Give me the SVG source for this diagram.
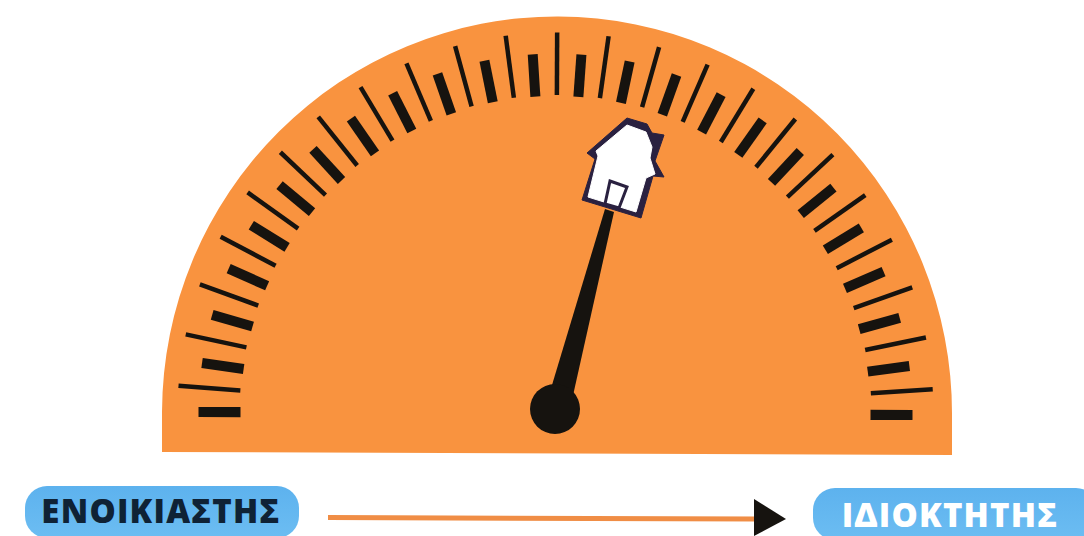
<svg xmlns="http://www.w3.org/2000/svg" width="1084" height="536" viewBox="0 0 1084 536">
<defs>
<linearGradient id="pill" x1="0" y1="0" x2="0" y2="1"><stop offset="0" stop-color="#5db2ee"/><stop offset="1" stop-color="#6cbdf2"/></linearGradient>
<line id="thick" x1="-315" y1="0" x2="-357" y2="0" stroke="#16130f" stroke-width="10"/>
<line id="thin" x1="-316" y1="0" x2="-378" y2="0" stroke="#16130f" stroke-width="4.5"/>
</defs>
<style>
.lbl{font-family:"Open Sans","Noto Sans","DejaVu Sans",sans-serif;font-weight:800;font-size:33px;text-anchor:middle;letter-spacing:1.2px}
</style>
<rect width="1084" height="536" fill="#ffffff"/>
<g id="dial">
<path d="M162 452 L162 412 A395 397 0 0 1 952 415 L952 455 Z" fill="#f9933f"/>
<g transform="translate(555.5 413.5) rotate(0.25) scale(1 1.008)">
<use href="#thick" transform="rotate(0)"/><use href="#thin" transform="rotate(3.913)"/>
<use href="#thick" transform="rotate(7.826)"/><use href="#thin" transform="rotate(11.739)"/>
<use href="#thick" transform="rotate(15.652)"/><use href="#thin" transform="rotate(19.565)"/>
<use href="#thick" transform="rotate(23.478)"/><use href="#thin" transform="rotate(27.391)"/>
<use href="#thick" transform="rotate(31.304)"/><use href="#thin" transform="rotate(35.217)"/>
<use href="#thick" transform="rotate(39.13)"/><use href="#thin" transform="rotate(43.043)"/>
<use href="#thick" transform="rotate(46.957)"/><use href="#thin" transform="rotate(50.87)"/>
<use href="#thick" transform="rotate(54.783)"/><use href="#thin" transform="rotate(58.696)"/>
<use href="#thick" transform="rotate(62.609)"/><use href="#thin" transform="rotate(66.522)"/>
<use href="#thick" transform="rotate(70.435)"/><use href="#thin" transform="rotate(74.348)"/>
<use href="#thick" transform="rotate(78.261)"/><use href="#thin" transform="rotate(82.174)"/>
<use href="#thick" transform="rotate(86.087)"/><use href="#thin" transform="rotate(90)"/>
<use href="#thick" transform="rotate(93.913)"/><use href="#thin" transform="rotate(97.826)"/>
<use href="#thick" transform="rotate(101.739)"/><use href="#thin" transform="rotate(105.652)"/>
<use href="#thick" transform="rotate(109.565)"/><use href="#thin" transform="rotate(113.478)"/>
<use href="#thick" transform="rotate(117.391)"/><use href="#thin" transform="rotate(121.304)"/>
<use href="#thick" transform="rotate(125.217)"/><use href="#thin" transform="rotate(129.13)"/>
<use href="#thick" transform="rotate(133.043)"/><use href="#thin" transform="rotate(136.957)"/>
<use href="#thick" transform="rotate(140.87)"/><use href="#thin" transform="rotate(144.783)"/>
<use href="#thick" transform="rotate(148.696)"/><use href="#thin" transform="rotate(152.609)"/>
<use href="#thick" transform="rotate(156.522)"/><use href="#thin" transform="rotate(160.435)"/>
<use href="#thick" transform="rotate(164.348)"/><use href="#thin" transform="rotate(168.261)"/>
<use href="#thick" transform="rotate(172.174)"/><use href="#thin" transform="rotate(176.087)"/>
<use href="#thick" transform="rotate(180)"/>
</g>
</g>
<g id="needle">
<polygon points="549,395 572,400 614,212 605,209" fill="#16130f"/>
<circle cx="555" cy="409" r="25" fill="#16130f"/>
</g>
<g id="house">
<polygon points="627,118 647,124 652,133 664,135 655,161 664,177 653,176 641,218 582,200 595,159 587,153" fill="#2a2140" stroke="#2a2140" stroke-width="1" stroke-linejoin="round"/>
<polygon points="627,125 646,132 652,147 650,158 655,174 646,178 636,212 588,197 598,156 596,151" fill="#ffffff" stroke="#ffffff" stroke-width="1" stroke-linejoin="round"/>
<polygon points="610,181 627,187 619,208 605,204" fill="#ffffff" stroke="#2a2140" stroke-width="3"/>
</g>
<g id="connectors">
<line x1="328" y1="517.5" x2="756" y2="519" stroke="#f08d45" stroke-width="5"/>
<polygon points="754,499 786,519 754,536" fill="#16130f"/>
</g>
<g id="renter">
<rect x="25" y="486" width="274" height="52" rx="22" fill="url(#pill)"/>
<text x="161" y="523" class="lbl" fill="#0f2235">ΕΝΟΙΚΙΑΣΤΗΣ</text>
</g>
<g id="owner">
<rect x="813" y="488" width="285" height="52" rx="22" fill="url(#pill)"/>
<text x="950" y="527" class="lbl" fill="#ffffff">ΙΔΙΟΚΤΗΤΗΣ</text>
</g>
</svg>
